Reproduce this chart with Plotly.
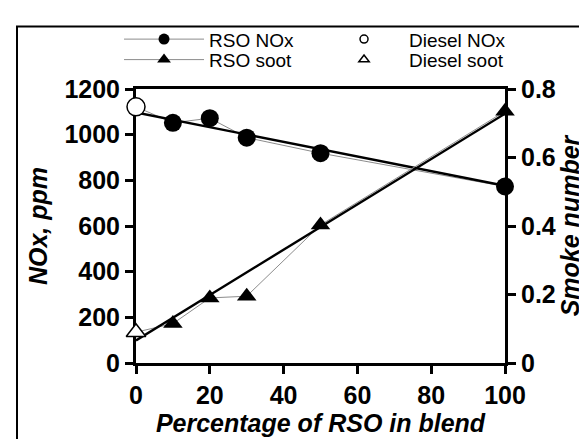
import plotly.graph_objects as go

# ---- data ----
rso_pct = [10, 20, 30, 50, 100]
rso_nox = [1052, 1072, 987, 919, 773]
rso_soot = [0.115, 0.19, 0.195, 0.403, 0.735]
diesel_pct = [0]
diesel_nox = [1122]
diesel_soot = [0.09]
trend_pct = [0, 100]
nox_trend = [1097, 776]
soot_trend = [0.066, 0.728]

x_ticks = [0, 20, 40, 60, 80, 100]
nox_ticks = [0, 200, 400, 600, 800, 1000, 1200]
soot_ticks = [0, 0.2, 0.4, 0.6, 0.8]
soot_tick_text = ["0", "0.2", "0.4", "0.6", "0.8"]

FONT = "Liberation Sans, Arial, sans-serif"
GRAY = "#8c8c8c"

fig = go.Figure()

# thin connecting lines (diesel point + RSO blends)
fig.add_trace(go.Scatter(x=diesel_pct + rso_pct, y=diesel_nox + rso_nox, mode="lines",
                         line=dict(color=GRAY, width=1), showlegend=False, yaxis="y", cliponaxis=False))
fig.add_trace(go.Scatter(x=diesel_pct + rso_pct, y=diesel_soot + rso_soot, mode="lines",
                         line=dict(color=GRAY, width=1), showlegend=False, yaxis="y2", cliponaxis=False))
# trend lines
fig.add_trace(go.Scatter(x=trend_pct, y=nox_trend, mode="lines",
                         line=dict(color="black", width=2.4), showlegend=False, yaxis="y", cliponaxis=False))
fig.add_trace(go.Scatter(x=trend_pct, y=soot_trend, mode="lines",
                         line=dict(color="black", width=2.4), showlegend=False, yaxis="y2", cliponaxis=False))
# markers
fig.add_trace(go.Scatter(x=rso_pct, y=rso_nox, mode="markers",
                         marker=dict(symbol="circle", size=18, color="black"),
                         showlegend=False, yaxis="y", cliponaxis=False))
fig.add_trace(go.Scatter(x=diesel_pct, y=diesel_nox, mode="markers",
                         marker=dict(symbol="circle", size=18, color="white", line=dict(color="black", width=1.5)),
                         showlegend=False, yaxis="y", cliponaxis=False))
fig.add_trace(go.Scatter(x=rso_pct, y=rso_soot, mode="markers",
                         marker=dict(symbol="triangle-up", size=17, color="black"),
                         showlegend=False, yaxis="y2", cliponaxis=False))
fig.add_trace(go.Scatter(x=diesel_pct, y=diesel_soot, mode="markers",
                         marker=dict(symbol="triangle-up", size=17, color="white", line=dict(color="black", width=1.5)),
                         showlegend=False, yaxis="y2", cliponaxis=False))

# legend proxies
fig.add_trace(go.Scatter(x=[None], y=[None], mode="lines+markers", name="RSO NOx",
                         line=dict(color=GRAY, width=1), marker=dict(symbol="circle", size=11, color="black"),
                         legend="legend"))
fig.add_trace(go.Scatter(x=[None], y=[None], mode="markers", name="Diesel NOx",
                         marker=dict(symbol="circle", size=8, color="white", line=dict(color="black", width=1.5)),
                         legend="legend"))
fig.add_trace(go.Scatter(x=[None], y=[None], mode="lines+markers", name="RSO soot",
                         line=dict(color=GRAY, width=1), marker=dict(symbol="triangle-up", size=12, color="black"),
                         legend="legend2"))
fig.add_trace(go.Scatter(x=[None], y=[None], mode="markers", name="Diesel soot",
                         marker=dict(symbol="triangle-up", size=9, color="white", line=dict(color="black", width=1.5)),
                         legend="legend2"))

tickfont = dict(family=FONT, size=25, color="black", weight="bold")
titlefont = dict(family=FONT, size=25, color="black", weight="bold", style="italic")
legfont = dict(family=FONT, size=19, color="black")

LEG_X = -0.046
fig.update_layout(
    width=587, height=439, autosize=False,
    margin=dict(l=128, r=90, t=74, b=84),
    paper_bgcolor="white", plot_bgcolor="white",
    xaxis=dict(range=[0, 100], tickvals=x_ticks, showgrid=False, zeroline=False,
               showline=True, linecolor="black", linewidth=3, mirror=True,
               ticks="outside", ticklen=8, tickwidth=3, tickcolor="black",
               tickfont=tickfont, layer="below traces",
               title=dict(text="Percentage of RSO in blend", font=titlefont, standoff=2)),
    yaxis=dict(range=[0, 1200], tickvals=nox_ticks, showgrid=False, zeroline=False,
               showline=True, linecolor="black", linewidth=3,
               ticks="outside", ticklen=8, tickwidth=3, tickcolor="black",
               tickfont=tickfont, layer="below traces",
               title=dict(text="NOx, ppm", font=titlefont, standoff=10)),
    yaxis2=dict(range=[0, 0.8], tickvals=soot_ticks, ticktext=soot_tick_text, overlaying="y", side="right",
                showgrid=False, zeroline=False,
                showline=True, linecolor="black", linewidth=3,
                ticks="outside", ticklen=8, tickwidth=3, tickcolor="black",
                tickfont=tickfont, layer="below traces",
                title=dict(text="Smoke number", font=titlefont, standoff=6)),
    legend=dict(orientation="h", x=LEG_X, xanchor="left", y=1 + (74 - 23) / 281, yanchor="middle",
                font=legfont, bgcolor="rgba(0,0,0,0)", itemwidth=80, entrywidth=105,
                tracegroupgap=0),
    legend2=dict(orientation="h", x=LEG_X, xanchor="left", y=1 + (74 - 44) / 281, yanchor="middle",
                 font=legfont, bgcolor="rgba(0,0,0,0)", itemwidth=80, entrywidth=105,
                 tracegroupgap=0),
    shapes=[dict(type="rect", xref="paper", yref="paper",
                 x0=(9 - 128) / 369, x1=2.0, y0=-1.0, y1=1 + (74 - 10) / 281,
                 line=dict(color="black", width=2), fillcolor="rgba(0,0,0,0)", layer="below")],
)

fig.write_html("out.html")
